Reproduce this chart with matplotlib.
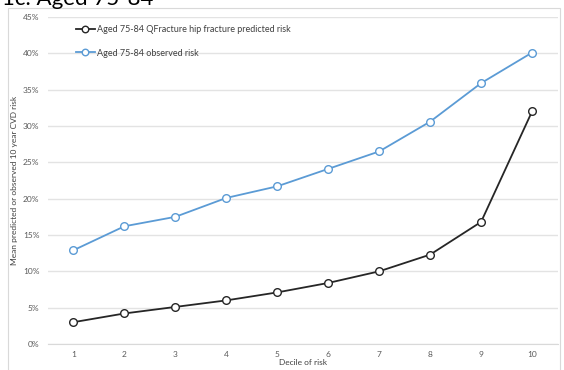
import matplotlib.pyplot as plt
from matplotlib.ticker import FuncFormatter
from matplotlib.patches import Rectangle

plt.rcParams['font.family'] = ['Lato', 'DejaVu Sans']

# data
deciles = [1, 2, 3, 4, 5, 6, 7, 8, 9, 10]
predicted = [3.0, 4.2, 5.1, 6.0, 7.1, 8.4, 10.0, 12.3, 16.8, 32.0]
observed = [12.9, 16.2, 17.5, 20.1, 21.7, 24.1, 26.5, 30.6, 35.9, 40.1]

fig = plt.figure(figsize=(5.64, 3.70), dpi=100)
ax = fig.add_axes([0.085, 0.0703, 0.9035, 0.8837])

# chart frame like the excel export
fig.patches.append(Rectangle((8 / 564, -0.05), 552 / 564, 1.05 - 8 / 370,
                             transform=fig.transFigure, fill=False,
                             edgecolor='#d9d9d9', linewidth=0.8))

ax.plot(deciles, predicted, color='#262626', lw=1.3, marker='o', ms=5.5,
        mfc='white', mec='#262626', mew=1.0,
        label='Aged 75-84 QFracture hip fracture predicted risk', zorder=3)
ax.plot(deciles, observed, color='#5b9bd5', lw=1.3, marker='o', ms=5.5,
        mfc='white', mec='#5b9bd5', mew=1.0,
        label='Aged 75-84 observed risk', zorder=3)

ax.set_xlim(0.5, 10.5)
ax.set_ylim(0, 45)
ax.set_xticks(deciles)
ax.set_yticks(range(0, 46, 5))
ax.yaxis.set_major_formatter(FuncFormatter(lambda v, p: f'{int(v)}%'))
ax.grid(axis='y', color='#e3e3e3', lw=1.0)
ax.set_axisbelow(True)
for s in ['top', 'right', 'left']:
    ax.spines[s].set_visible(False)
ax.spines['bottom'].set_color('#d9d9d9')
ax.tick_params(length=0, labelsize=6, colors='#595959')
ax.tick_params(axis='x', pad=5)
ax.tick_params(axis='y', pad=6)

ax.set_xlabel('Decile of risk', fontsize=6, color='#404040', labelpad=1)
ax.set_ylabel('Mean predicted or observed 10 year CVD risk', fontsize=6,
              color='#404040', labelpad=4)

ax.legend(loc='upper left', bbox_to_anchor=(0.04, 1.0), frameon=False,
          fontsize=6.5, labelcolor='#404040', handlelength=2.0,
          handletextpad=0.3, labelspacing=1.6, markerscale=0.85)

fig.text(0.004, 1 - 5 / 370, '1c. Aged 75-84', fontsize=16, color='black',
         ha='left', va='baseline')

fig.savefig('out.png', dpi=100)
